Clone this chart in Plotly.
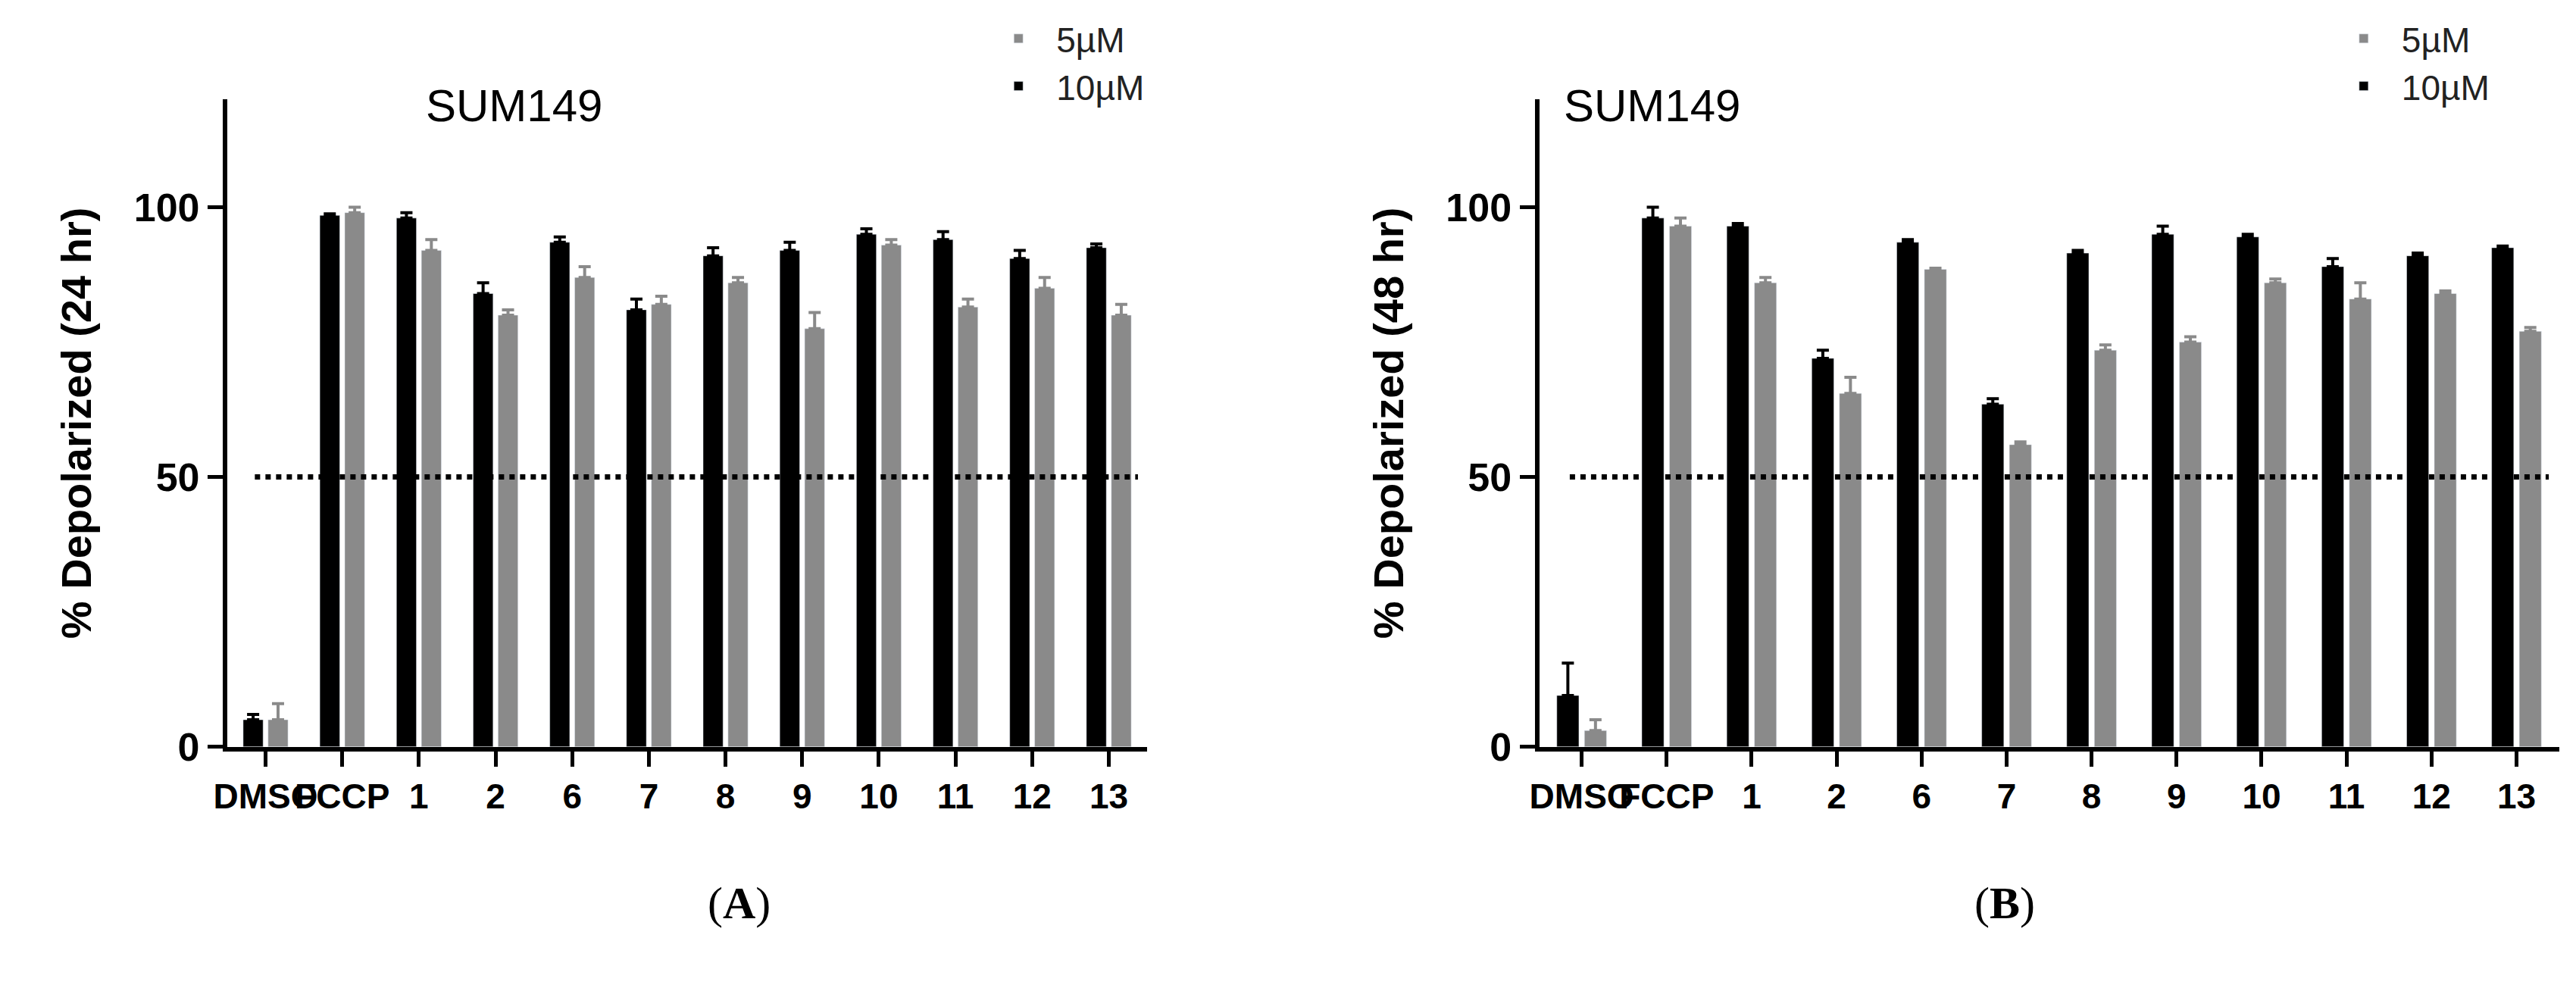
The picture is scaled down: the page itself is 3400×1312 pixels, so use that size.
import plotly.graph_objects as go

categories = ["DMSO", "FCCP", "1", "2", "6", "7", "8", "9", "10", "11", "12", "13"]
a_10 = [5, 98.5, 98, 84, 93.5, 81, 91, 92, 95, 94, 90.5, 92.5]
a_10_err = [1, 0.3, 1, 2, 1, 2, 1.5, 1.5, 1, 1.5, 1.5, 0.7]
a_5 = [5, 99, 92, 80, 87, 82, 86, 77.5, 93, 81.5, 85, 80]
a_5_err = [3, 1, 2, 1, 2, 1.5, 1, 3, 1, 1.5, 2, 2]
b_10 = [9.5, 98, 96.5, 72, 93.5, 63.5, 91.5, 95, 94.5, 89, 91, 92.5]
b_10_err = [6, 2, 0.5, 1.5, 0.5, 1, 0.5, 1.5, 0.5, 1.5, 0.5, 0.3]
b_5 = [3, 96.5, 86, 65.5, 88.5, 56, 73.5, 75, 86, 83, 84, 77]
b_5_err = [2, 1.5, 1, 3, 0.2, 0.5, 1, 1, 0.7, 3, 0.5, 0.7]
y_ticks = [0, 50, 100]

BLACK = "#000000"
GREY = "#8a8a8a"

fig = go.Figure()

def add_panel(fig, xa, ya, v10, e10, v5, e5, legend):
    fig.add_trace(go.Bar(x=categories, y=v10, name="10µM", marker_color=BLACK,
                         error_y=dict(type="data", array=e10, arrayminus=[0]*len(e10),
                                      color=BLACK, thickness=4, width=8),
                         xaxis=xa, yaxis=ya, legend=legend))
    fig.add_trace(go.Bar(x=categories, y=v5, name="5µM", marker_color=GREY,
                         error_y=dict(type="data", array=e5, arrayminus=[0]*len(e5),
                                      color=GREY, thickness=4, width=8),
                         xaxis=xa, yaxis=ya, legend=legend))

add_panel(fig, "x", "y", a_10, a_10_err, a_5, a_5_err, "legend")
add_panel(fig, "x2", "y2", b_10, b_10_err, b_5, b_5_err, "legend2")

axis_common = dict(showline=True, linecolor="black", linewidth=6, ticks="outside",
                   ticklen=20, tickwidth=5, tickcolor="black", showgrid=False, zeroline=False)
xfont = dict(family="Liberation Sans Narrow, Liberation Sans", size=46, color="black", weight="bold")
yfont = dict(family="Liberation Sans", size=52, color="black", weight="bold")
ytfont = dict(family="Liberation Sans", size=56, color="black", weight="bold")
lfont = dict(family="Liberation Sans", size=46, color="#222")

fig.update_layout(
    width=3400, height=1312, paper_bgcolor="white", plot_bgcolor="white",
    margin=dict(l=0, r=0, t=0, b=0),
    barmode="group", bargap=0.35, bargroupgap=0.2,
    xaxis=dict(domain=[0.081, 0.44], anchor="y", tickfont=xfont, tickangle=0, **axis_common),
    yaxis=dict(domain=[0.238, 0.904], anchor="x", range=[0, 120], tickvals=y_ticks,
               tickfont=yfont, title=dict(text="% Depolarized (24 hr)", font=ytfont, standoff=40),
               **axis_common),
    xaxis2=dict(domain=[0.593, 0.991], anchor="y2", tickfont=xfont, tickangle=0, **axis_common),
    yaxis2=dict(domain=[0.238, 0.904], anchor="x2", range=[0, 120], tickvals=y_ticks,
                tickfont=yfont, title=dict(text="% Depolarized (48 hr)", font=ytfont, standoff=40),
                **axis_common),
    legend=dict(x=0.375, y=0.995, xanchor="left", yanchor="top", traceorder="reversed",
                itemwidth=90, font=lfont),
    legend2=dict(x=0.9, y=0.995, xanchor="left", yanchor="top", traceorder="reversed",
                 itemwidth=90, font=lfont),
)

for xr, yr in [("x domain", "y"), ("x2 domain", "y2")]:
    fig.add_shape(type="line", xref=xr, yref=yr, x0=0.03, x1=0.99, y0=50, y1=50,
                  line=dict(color="black", width=7, dash="dot"))

for x, t in [(0.158, "SUM149"), (0.672, "SUM149")]:
    fig.add_annotation(x=x, y=0.925, xref="paper", yref="paper", text=t, showarrow=False,
                       font=dict(family="Liberation Sans", size=60, color="black"))
for x, t in [(0.268, "(<b>A</b>)"), (0.787, "(<b>B</b>)")]:
    fig.add_annotation(x=x, y=0.05, xref="paper", yref="paper", text=t, showarrow=False,
                       font=dict(family="Liberation Serif", size=60, color="black"))

fig.write_html("out.html")
